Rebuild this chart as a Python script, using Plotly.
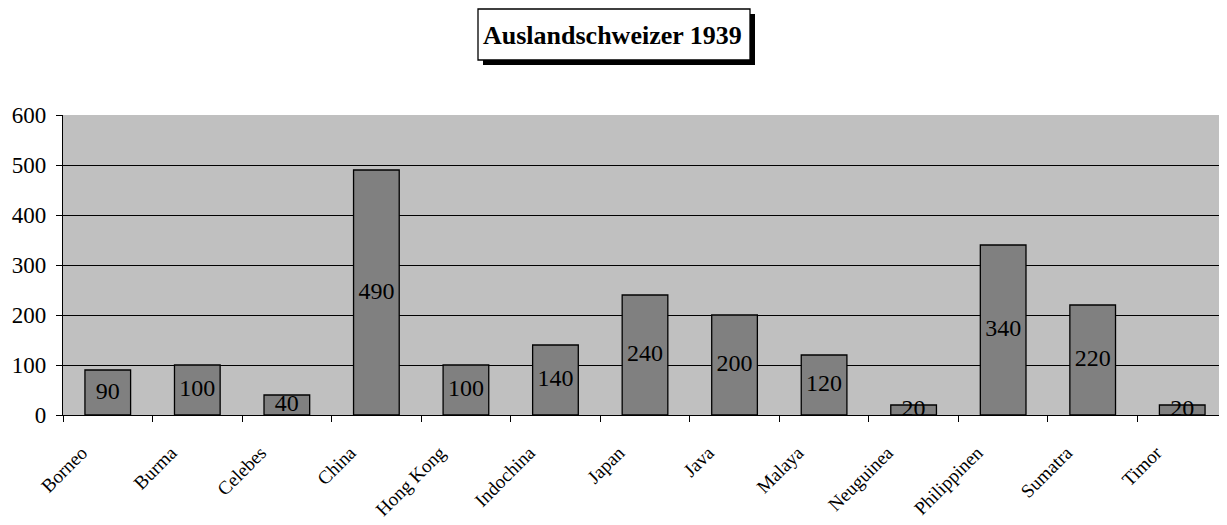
import plotly.graph_objects as go

categories = ["Borneo", "Burma", "Celebes", "China", "Hong Kong", "Indochina", "Japan",
              "Java", "Malaya", "Neuguinea", "Philippinen", "Sumatra", "Timor"]
values = [90, 100, 40, 490, 100, 140, 240, 200, 120, 20, 340, 220, 20]
y_ticks = [0, 100, 200, 300, 400, 500, 600]
title_text = "Auslandschweizer 1939"

# the page body has an 8px margin, so the figure is sized to fit the window
OFF = 8
W, H = 1227 - OFF, 525 - OFF
ML, MR, MT, MB = 63 - OFF, 0, 115 - OFF, 110
PW, PH = W - ML - MR, H - MT - MB

def px(x):
    return (x - OFF - ML) / PW

def py(y):
    return (H - MB - (y - OFF)) / PH

FONT = "Liberation Serif"

fig = go.Figure()
fig.add_trace(go.Bar(
    x=categories, y=values, width=0.51,
    marker=dict(color="#808080", line=dict(color="black", width=1.3)),
    hoverinfo="skip",
))
fig.add_trace(go.Scatter(
    x=categories, y=[v / 2 for v in values], mode="text",
    text=[str(v) for v in values],
    textfont=dict(family=FONT, size=24, color="black"),
    hoverinfo="skip",
))

shapes = [
    dict(type="rect", xref="paper", yref="paper",
         x0=px(483), x1=px(755), y0=py(65), y1=py(14),
         fillcolor="black", line=dict(width=0), layer="above"),
    dict(type="rect", xref="paper", yref="paper",
         x0=px(478), x1=px(750), y0=py(60), y1=py(9),
         fillcolor="white", line=dict(color="black", width=1.3), layer="above"),
]

fig.update_layout(
    width=W, height=H,
    margin=dict(l=ML, r=MR, t=MT, b=MB, pad=0, autoexpand=False),
    paper_bgcolor="white", plot_bgcolor="#C0C0C0",
    showlegend=False,
    bargap=0.49,
    shapes=shapes,
    annotations=[dict(text="<b>" + title_text + "</b>", xref="paper", yref="paper",
                      x=px(612), y=py(35), xanchor="center", yanchor="middle",
                      showarrow=False, font=dict(family=FONT, size=26, color="black"))],
    xaxis=dict(type="category", tickson="boundaries", ticks="outside", ticklen=6,
               tickcolor="black", tickwidth=1.3, showline=True, linecolor="black",
               linewidth=1.3, showgrid=False, tickangle=-45, automargin=False,
               tickfont=dict(family=FONT, size=19, color="black"),
               ticklabelstandoff=18, ticklabelshift=-26,
               range=[-0.5, len(categories) - 0.5]),
    yaxis=dict(range=[0, 600], tickvals=y_ticks, ticks="outside", ticklen=6,
               tickcolor="black", tickwidth=1.3, showline=True, linecolor="black",
               linewidth=1.3, showgrid=True, gridcolor="black", gridwidth=1.3,
               zeroline=False, automargin=False, ticklabelstandoff=5,
               tickfont=dict(family=FONT, size=23, color="black")),
)

fig.write_html("out.html")
